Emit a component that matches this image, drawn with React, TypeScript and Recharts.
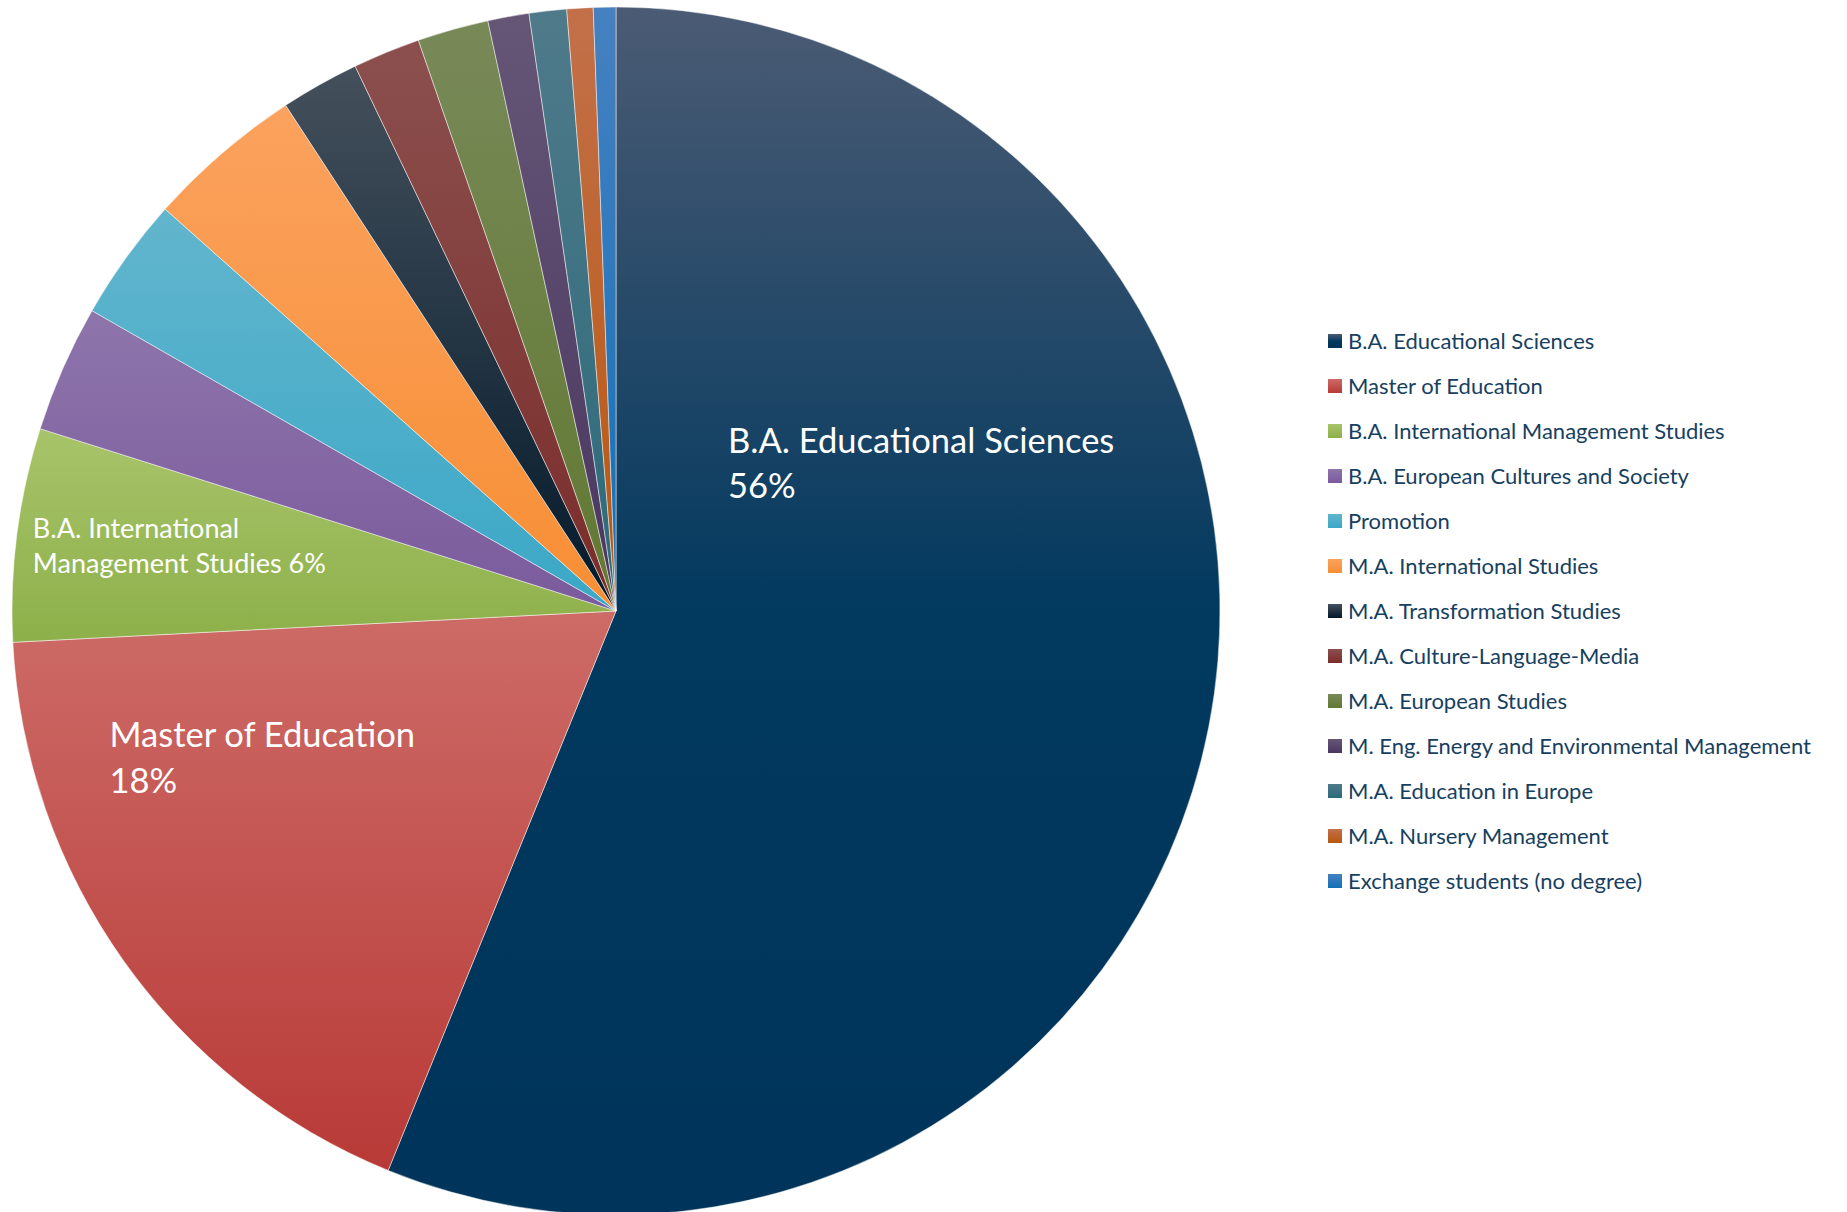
import { PieChart, Pie, Cell, Legend } from 'recharts';

const PROGRAMS = [
  'B.A. Educational Sciences',
  'Master of Education',
  'B.A. International Management Studies',
  'B.A. European Cultures and Society',
  'Promotion',
  'M.A. International Studies',
  'M.A. Transformation Studies',
  'M.A. Culture-Language-Media',
  'M.A. European Studies',
  'M. Eng. Energy and Environmental Management',
  'M.A. Education in Europe',
  'M.A. Nursery Management',
  'Exchange students (no degree)',
];

// share of students in percent
const SHARES = [56.1, 18.0, 5.7, 3.4, 3.3, 4.2, 2.1, 1.8, 1.9, 1.1, 1.0, 0.7, 0.6];

// top (light) and bottom (dark) colour of each slice gradient
const LIGHT = ['#4b5b74', '#cd6b67', '#a8c46a', '#8e75ab', '#62b5cd', '#fba25e', '#44505c', '#8b504e', '#788958', '#655676', '#4f7a8a', '#c3704a', '#4681c0'];
const DARK = ['#00345a', '#b83a37', '#8db04a', '#7a5a9c', '#3aa8c7', '#f78e34', '#03192a', '#7a2c2a', '#617932', '#4a3660', '#2b6a7a', '#b8570f', '#1170b8'];

const data = PROGRAMS.map((name, i) => ({ name, value: SHARES[i] }));

const FONT = 'Lato, "Noto Sans", sans-serif';

// where the inside labels start: [fraction of radius, angle in degrees], plus font size
const LABELS: Record<number, { r: number; a: number; size: number; lh: number; lines: (name: string, pct: string) => string[] }> = {
  0: { r: 0.321, a: 54.7, size: 34.5, lh: 45, lines: (n, p) => [n, p] },
  1: { r: 0.868, a: 195, size: 34.5, lh: 46, lines: (n, p) => [n, p] },
  2: { r: 0.973, a: 172.9, size: 27, lh: 35, lines: (_n, p) => ['B.A. International', `Management Studies ${p}`] },
};

const RAD = Math.PI / 180;

function renderLabel(props: any) {
  const { cx, cy, outerRadius, percent, name, index } = props;
  const cfg = LABELS[index];
  if (!cfg) return null;
  const x = cx + outerRadius * cfg.r * Math.cos(cfg.a * RAD);
  const y = cy - outerRadius * cfg.r * Math.sin(cfg.a * RAD);
  const pct = `${Math.round(percent * 100)}%`;
  const lines = cfg.lines(name, pct);
  return (
    <text x={x} y={y} fill="#ffffff" fontSize={cfg.size} fontFamily={FONT} textAnchor="start">
      {lines.map((l, k) => (
        <tspan key={k} x={x} dy={k === 0 ? 0 : cfg.lh}>
          {l}
        </tspan>
      ))}
    </text>
  );
}

function renderLegend() {
  return (
    <ul style={{ listStyle: 'none', margin: 0, padding: 0, fontFamily: FONT, fontSize: 22, color: '#17405f' }}>
      {PROGRAMS.map((name, i) => (
        <li key={name} style={{ display: 'flex', alignItems: 'center', height: 45, whiteSpace: 'nowrap' }}>
          <svg width={14} height={14} style={{ flex: 'none' }}>
            <rect width={14} height={14} fill={`url(#slice-${i})`} />
          </svg>
          <span style={{ marginLeft: 6 }}>{name}</span>
        </li>
      ))}
    </ul>
  );
}

export default function App() {
  return (
    <div style={{ position: 'absolute', left: 0, top: 0, width: 1847, height: 1212, overflow: 'hidden', background: '#ffffff' }}>
      <PieChart width={1847} height={1212} margin={{ top: 0, right: 0, bottom: 0, left: 0 }}>
        <defs>
          {PROGRAMS.map((name, i) => (
            <linearGradient key={name} id={`slice-${i}`} x1="0" y1="0" x2="0" y2="1">
              <stop offset="0" stopColor={LIGHT[i]} />
              {i === 0 && <stop offset="0.5" stopColor="#02395f" />}
              <stop offset="1" stopColor={DARK[i]} />
            </linearGradient>
          ))}
        </defs>
        <Pie
          data={data}
          dataKey="value"
          nameKey="name"
          cx={616}
          cy={611}
          outerRadius={604}
          startAngle={90}
          endAngle={-270}
          stroke="#ffffff"
          strokeWidth={0.8}
          strokeOpacity={0.6}
          label={renderLabel}
          labelLine={false}
          isAnimationActive={false}
        >
          {data.map((d, i) => (
            <Cell key={d.name} fill={`url(#slice-${i})`} />
          ))}
        </Pie>
        <Legend
          layout="vertical"
          align="right"
          verticalAlign="middle"
          content={renderLegend}
          wrapperStyle={{ left: 1328, top: 318, width: 519 }}
        />
      </PieChart>
    </div>
  );
}
